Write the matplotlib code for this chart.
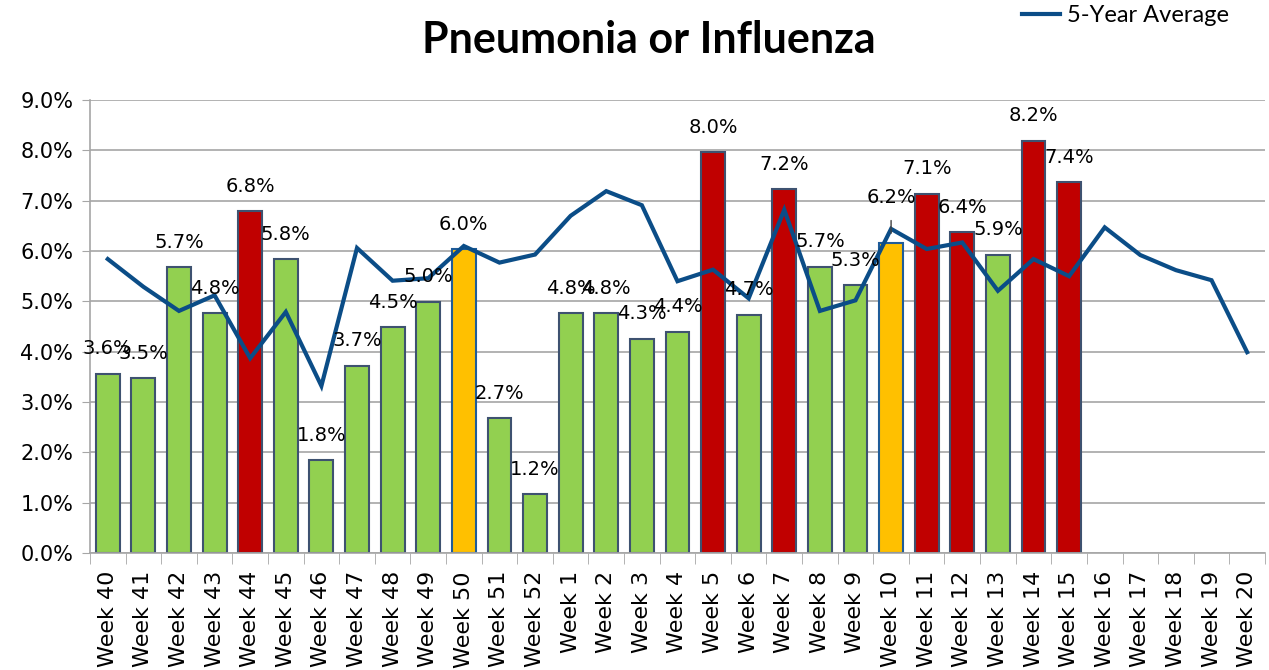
import numpy as np
import matplotlib.pyplot as plt
from matplotlib.lines import Line2D
from matplotlib.ticker import FuncFormatter, FixedLocator

weeks = ["Week 40", "Week 41", "Week 42", "Week 43", "Week 44", "Week 45", "Week 46",
         "Week 47", "Week 48", "Week 49", "Week 50", "Week 51", "Week 52",
         "Week 1", "Week 2", "Week 3", "Week 4", "Week 5", "Week 6", "Week 7",
         "Week 8", "Week 9", "Week 10", "Week 11", "Week 12", "Week 13", "Week 14",
         "Week 15", "Week 16", "Week 17", "Week 18", "Week 19", "Week 20"]

# weekly percentage (bars), only reported through Week 15
pct = [3.56, 3.47, 5.68, 4.76, 6.79, 5.84, 1.84, 3.72, 4.49, 4.99, 6.04, 2.68, 1.17,
       4.76, 4.76, 4.26, 4.40, 7.96, 4.73, 7.23, 5.69, 5.32, 6.16, 7.14, 6.37, 5.93,
       8.19, 7.37]

# alert level per reported week
status = ["normal", "normal", "normal", "normal", "high", "normal", "normal", "normal",
          "normal", "normal", "elevated", "normal", "normal", "normal", "normal",
          "normal", "normal", "high", "normal", "high", "normal", "normal", "elevated",
          "high", "high", "normal", "high", "high"]

five_year_avg = [5.84, 5.29, 4.81, 5.12, 3.87, 4.79, 3.32, 6.06, 5.41, 5.46, 6.10,
                 5.77, 5.93, 6.70, 7.19, 6.91, 5.40, 5.63, 5.06, 6.82, 4.81, 5.02,
                 6.44, 6.04, 6.17, 5.21, 5.84, 5.50, 6.47, 5.92, 5.62, 5.42, 3.99]

fill = {"normal": "#92D050", "elevated": "#FFC000", "high": "#C00000"}
edge = {"normal": "#3E5270", "elevated": "#1F5C99", "high": "#3E5270"}
line_col = "#0B4D87"
grid_col = "#A6A6A6"

fig = plt.figure(figsize=(12.69, 6.70), dpi=100)
ax = fig.add_axes([0.0709, 0.1746, 0.9259, 0.6761])

x = np.arange(len(weeks))
xb = x[:len(pct)]
ax.bar(xb, pct, width=0.67, color=[fill[s] for s in status],
       edgecolor=[edge[s] for s in status], linewidth=1.5, zorder=2)
ax.plot(x, five_year_avg, color=line_col, linewidth=3, zorder=3, solid_joinstyle="miter")

for i, v in enumerate(pct):
    if weeks[i] == "Week 10":
        ax.annotate(f"{v:.1f}%", xy=(i, v), xytext=(0, 33), textcoords="offset points",
                    ha="center", va="center", fontsize=14, zorder=4,
                    arrowprops=dict(arrowstyle="-", color="#404040", lw=1,
                                    shrinkA=8, shrinkB=7))
    else:
        ax.annotate(f"{v:.1f}%", xy=(i, v), xytext=(0, 18), textcoords="offset points",
                    ha="center", va="center", fontsize=14, zorder=4)

ax.set_xlim(-0.5, len(weeks) - 0.5)
ax.set_ylim(0, 9)
ax.set_yticks(np.arange(0, 9.5, 1))
ax.yaxis.set_major_formatter(FuncFormatter(lambda v, p: f"{v:.1f}%"))
ax.tick_params(axis="y", labelsize=15, length=6, color=grid_col, pad=6)
ax.grid(axis="y", color=grid_col, linewidth=1.2, zorder=0)
ax.set_axisbelow(True)

ax.set_xticks(x)
ax.set_xticklabels(weeks, rotation=90, fontsize=16)
ax.tick_params(axis="x", which="major", length=0, pad=13)
ax.xaxis.set_minor_locator(FixedLocator(np.arange(-0.5, len(weeks), 1)))
ax.tick_params(axis="x", which="minor", length=8, color=grid_col)

for s in ["top", "right"]:
    ax.spines[s].set_visible(False)
ax.spines["left"].set_color(grid_col)
ax.spines["bottom"].set_color(grid_col)
ax.spines["left"].set_linewidth(1.2)
ax.spines["bottom"].set_linewidth(1.2)

fig.text(0.511, 0.940, "Pneumonia or Influenza", ha="center", va="center",
         fontsize=31, fontweight="bold", family="Lato")

handle = Line2D([], [], color=line_col, linewidth=3)
fig.legend([handle], ["5-Year Average"], loc="center right", bbox_to_anchor=(0.978, 0.977),
           frameon=False, handlelength=1.6, handletextpad=0.3, borderpad=0,
           prop={"family": "Lato", "size": 17})

fig.savefig("out.png", dpi=100)
